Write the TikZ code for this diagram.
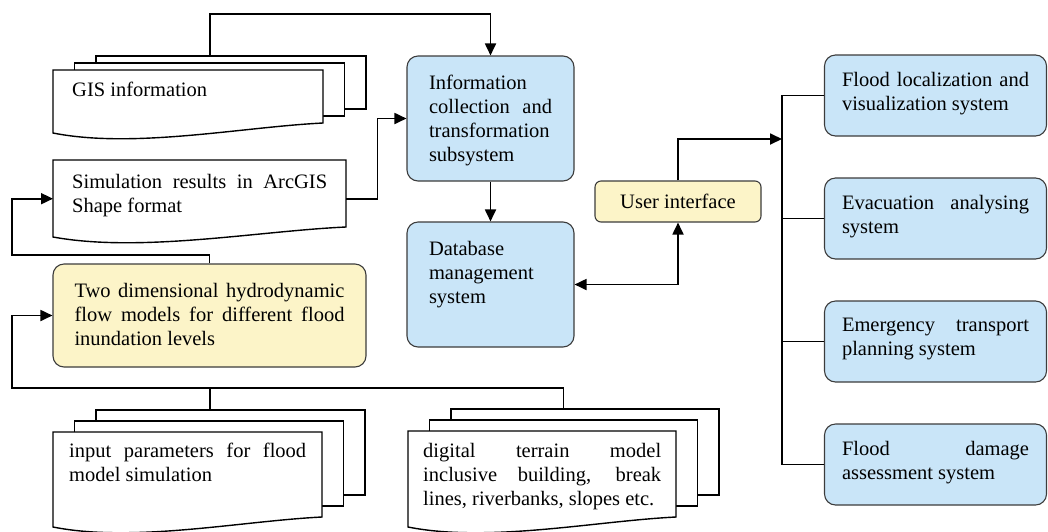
\documentclass[tikz,border=0pt]{standalone}
\usepackage{fontspec}
\setmainfont{Liberation Serif}
\usepackage{tikz}
\usetikzlibrary{arrows.meta,positioning}
\definecolor{boxblue}{RGB}{201,229,248}
\definecolor{boxyellow}{RGB}{252,244,200}
\definecolor{boxline}{RGB}{60,60,60}
\hyphenpenalty=10000
\exhyphenpenalty=10000
\tolerance=10000
\hbadness=10000
\vbadness=10000
\newcommand{\boxtxt}[4]{\parbox[c][#1pt][t]{#2pt}{\vspace*{#3pt}#4}}
\newcommand{\docpage}[4]{%
  \draw[page] (#1,#2) -- (#1+#3,#2) -- (#1+#3,#2+#4-10)
    .. controls (#1+0.7*#3,#2+#4-6) and (#1+0.3*#3,#2+#4+16) .. (#1,#2+#4) -- cycle;}
\newcommand{\docstack}[5]{%
  \foreach \k in {2,1}
    \draw[page] (#1+21.5*\k,#2-\k*#5) rectangle (#1+#3+21.5*\k,#2+#4-10-\k*#5);
  \docpage{#1}{#2}{#3}{#4}}

\begin{document}
\begin{tikzpicture}[x=1pt,y=-1pt,>={Triangle[length=12pt,width=11pt]},
    every node/.style={font=\fontsize{20.5}{24}\selectfont,inner sep=0pt},
    bluebox/.style={draw=boxline,line width=1.1pt,fill=boxblue,rounded corners=11pt},
    yellowbox/.style={bluebox,fill=boxyellow},
    page/.style={draw=black,line width=1.4pt,fill=white},
    doc/.style={anchor=north west},
    wire/.style={line width=1.8pt}]
  \useasboundingbox (0,0) rectangle (1048,531);

  \docstack{53}{70}{270}{63}{7}
  \node[doc,minimum width=270pt] (gis) at (53,70) {\boxtxt{63}{232}{12}{GIS information}};
  \docpage{53}{160}{293}{77}
  \node[doc,minimum width=293pt] (sim) at (53,160) {\boxtxt{77}{255}{14}{Simulation results in ArcGIS Shape format}};
  \docstack{53}{432}{269}{95}{11}
  \node[doc,minimum width=269pt] (input) at (53,432) {\boxtxt{95}{237}{11}{input parameters for flood model simulation}};
  \docstack{408}{431}{268}{96}{11}
  \node[doc,minimum width=268pt] (dtm) at (408,431) {\boxtxt{96}{238}{12}{digital terrain model inclusive building, break lines, riverbanks, slopes etc.}};

  \node[yellowbox,minimum width=313pt] (twod) at (209.5,315.5) {\boxtxt{103}{270}{19}{Two dimensional hydrodynamic flow models for different flood inundation levels}};
  \node[bluebox,minimum width=167pt] (info) at (490.5,118.5) {\boxtxt{125}{123}{19}{Information collection and transformation subsystem}};
  \node[bluebox,minimum width=167pt] (db) at (490.5,284.5) {\boxtxt{125}{123}{19}{Database management system}};
  \node[yellowbox,rounded corners=6pt,minimum width=166pt,minimum height=41pt] (ui) at (678,201.5) {User interface};

  \node[bluebox,minimum width=222pt] (loc) at (935.5,95.5) {\boxtxt{81}{187}{17}{Flood localization and visualization system}};
  \node[bluebox,minimum width=222pt] (evac) [on grid,below=123pt of loc] {\boxtxt{81}{187}{17}{Evacuation analysing system}};
  \node[bluebox,minimum width=222pt] (transp) [on grid,below=123pt of evac] {\boxtxt{81}{187}{17}{Emergency transport planning system}};
  \node[bluebox,minimum width=222pt] (damage) [on grid,below=123pt of transp] {\boxtxt{81}{187}{17}{Flood damage assessment system}};

  \coordinate (gis-top) at (210,56);
  \coordinate (input-top) at (210,410);
  \coordinate (dtm-top) at (563.5,409);
  \coordinate (loop-a) at (12,255);
  \coordinate (loop-b) at (12,388);
  \coordinate (bus) at (782,139);

  \draw[wire,->] (gis-top) -- ++(0,-42) -| (info.north);
  \draw[wire,->] (sim.east) -- ++(31,0) |- (info.west);
  \draw[wire,->] (info) -- (db);
  \draw[wire,<->] (db.east) -| (ui.south);
  \draw[wire,->] (ui.north) |- (bus);
  \draw[wire] (loc.west) -- (loc.west -| bus) -- (damage.west -| bus) -- (damage.west);
  \foreach \b in {evac,transp}
    \draw[wire] (\b.west) -- (\b.west -| bus);
  \draw[wire,->] (twod.north) |- (loop-a) |- (sim.west);
  \draw[wire,->] (dtm-top) |- (loop-b) |- (twod.west);
  \draw[wire] (input-top) -- (input-top |- loop-b);
\end{tikzpicture}
\end{document}
